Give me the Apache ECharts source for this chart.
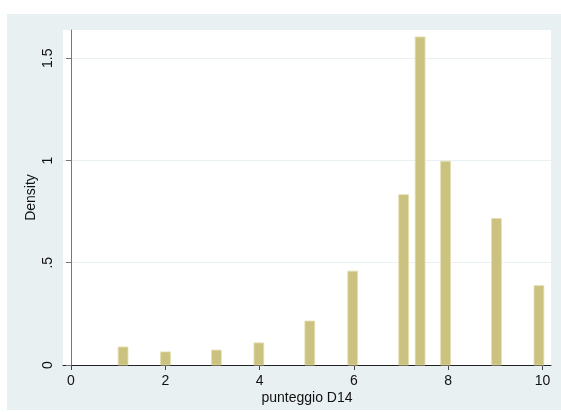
<!DOCTYPE html>
<html>
<head>
<meta charset="utf-8">
<style>
  html, body { margin: 0; padding: 0; background: #ffffff; }
  #chart { width: 561px; height: 412px; }
</style>
<script src="https://cdn.jsdelivr.net/npm/echarts@6/dist/echarts.min.js"></script>
</head>
<body>
<div id="chart"></div>
<script>
// Histogram of "punteggio D14": left edge of each bin and its density
const binLeft = [1.00, 1.90, 2.98, 3.88, 4.96, 5.87, 6.95, 7.30, 7.84, 8.92, 9.82];
const density = [0.088, 0.064, 0.073, 0.108, 0.215, 0.459, 0.833, 1.604, 0.996, 0.716, 0.388];
const binWidth = 0.208;

const xTicks = [0, 2, 4, 6, 8, 10];
const yTicks = [0, 0.5, 1, 1.5];
const yTickText = ['0', '.5', '1', '1.5'];

const bins = binLeft.map((x, i) => [x, x + binWidth, density[i]]);

const font = 'Liberation Sans, Arial, Helvetica, sans-serif';
const chart = echarts.init(document.getElementById('chart'), null, { renderer: 'canvas' });

chart.setOption({
  animation: false,
  backgroundColor: '#ffffff',
  graphic: [{
    type: 'rect',
    z: -10,
    shape: { x: 7, y: 14, width: 554, height: 396 },
    style: { fill: '#e8f0f2' },
    silent: true
  }],
  grid: {
    left: 63, right: 10, top: 30, bottom: 47,
    show: true, backgroundColor: '#ffffff', borderWidth: 0
  },
  xAxis: {
    type: 'value',
    min: -0.17, max: 10.18,
    interval: 2,
    axisLine: { show: true, onZero: false, lineStyle: { color: '#222', width: 1 } },
    axisTick: {
      show: true, length: 5, lineStyle: { color: '#444' },
      customValues: xTicks
    },
    axisLabel: {
      color: '#111', fontFamily: font, fontSize: 14, margin: 9,
      customValues: xTicks,
      formatter: v => String(v)
    },
    splitLine: { show: false },
    name: 'punteggio D14',
    nameLocation: 'middle',
    nameGap: 26,
    nameMoveOverlap: false,
    nameTextStyle: { color: '#111', fontFamily: font, fontSize: 14 }
  },
  yAxis: {
    type: 'value',
    min: 0, max: 1.638,
    interval: 0.5,
    axisLine: { show: true, lineStyle: { color: '#777', width: 1 } },
    axisTick: {
      show: true, length: 5, lineStyle: { color: '#777' },
      customValues: yTicks
    },
    axisLabel: {
      color: '#111', fontFamily: font, fontSize: 14, rotate: 90, margin: 8,
      customValues: yTicks,
      formatter: v => yTickText[yTicks.indexOf(v)] ?? ''
    },
    splitLine: { show: true, lineStyle: { color: '#eaf1f3', width: 1 } },
    name: 'Density',
    nameLocation: 'middle',
    nameGap: 25,
    nameRotate: 90,
    nameMoveOverlap: false,
    nameTextStyle: { color: '#111', fontFamily: font, fontSize: 14 }
  },
  series: [{
    type: 'custom',
    data: bins,
    encode: { x: [0, 1], y: 2 },
    renderItem: (params, api) => {
      const topLeft = api.coord([api.value(0), api.value(2)]);
      const bottomRight = api.coord([api.value(1), 0]);
      return {
        type: 'rect',
        shape: {
          x: topLeft[0], y: topLeft[1],
          width: bottomRight[0] - topLeft[0],
          height: bottomRight[1] - topLeft[1]
        },
        style: { fill: '#cbc27f', stroke: '#e4ddb0', lineWidth: 0.8 }
      };
    }
  }]
});
</script>
</body>
</html>
